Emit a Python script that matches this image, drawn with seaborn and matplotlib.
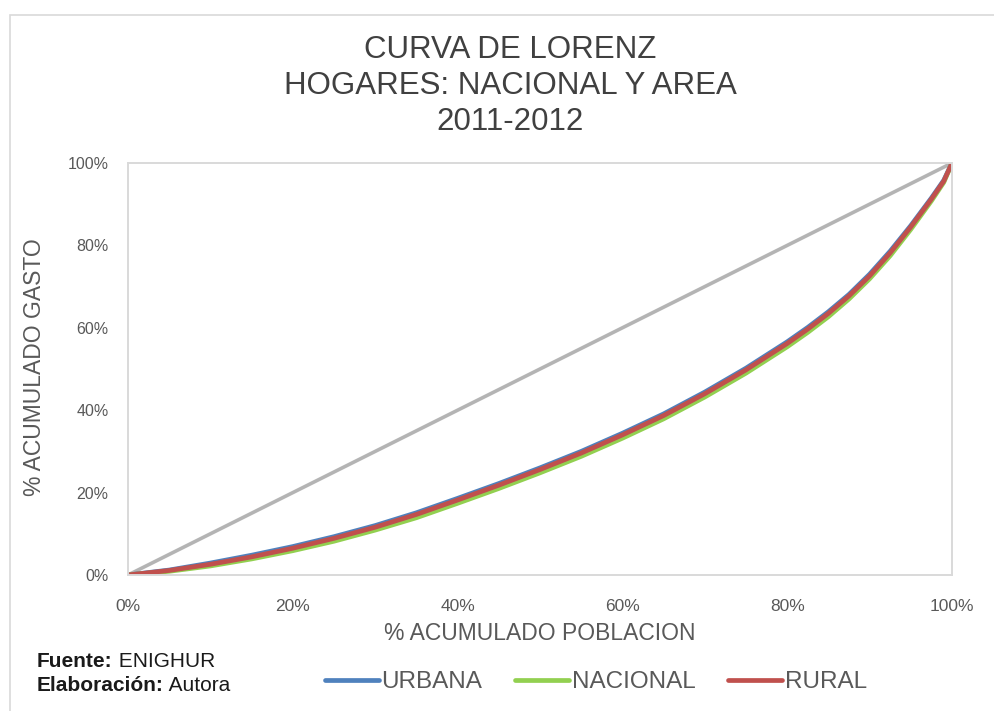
import numpy as np
import pandas as pd
import matplotlib
matplotlib.use('Agg')
import matplotlib.pyplot as plt
import matplotlib.patches as mpatches
import seaborn as sns

################################################################################
# datos (en %)

poblacion = [0, 5, 10, 15, 20, 25, 30, 35, 40, 45, 50, 55, 60, 65, 70, 75, 80, 82.5,
             85, 87.5, 90, 92.5, 95, 97.5, 99, 100]

urbana = [0, 1.2, 2.9, 4.8, 6.9, 9.3, 12.0, 15.1, 18.6, 22.2, 26.0, 30.0, 34.4, 39.1,
          44.4, 50.2, 56.6, 60.1, 63.9, 68.1, 73.0, 78.6, 84.8, 91.5, 95.8, 100]

nacional = [0, 0.9, 2.2, 3.9, 5.9, 8.2, 10.9, 13.9, 17.4, 21.0, 24.8, 28.8, 33.2, 37.9,
            43.2, 49.0, 55.4, 58.9, 62.7, 67.0, 71.9, 77.5, 83.9, 90.8, 95.3, 100]

rural = [0, 1.1, 2.6, 4.4, 6.5, 8.9, 11.6, 14.7, 18.2, 21.8, 25.6, 29.6, 34.0, 38.7,
         44.0, 49.8, 56.2, 59.7, 63.5, 67.75, 72.6, 78.2, 84.5, 91.25, 95.6, 100]

igualdad = [0, 100]

series = ['URBANA', 'NACIONAL', 'RURAL']
colores = ['#4F81BD', '#92D050', '#C0504D']

xticks = [0, 20, 40, 60, 80, 100]
yticks = [0, 20, 40, 60, 80, 100]

################################################################################

df = pd.concat([
    pd.DataFrame({'poblacion': poblacion, 'gasto': vals, 'area': name})
    for name, vals in zip(series, [urbana, nacional, rural])
])

sns.set_style('white')
plt.rcParams['font.family'] = ['Liberation Sans', 'DejaVu Sans']

fig = plt.figure(figsize = (9.94, 7.11), dpi = 100)
ax = fig.add_axes([128 / 994, 1 - 575 / 711, 824 / 994, 412 / 711])

sns.lineplot(
    x = igualdad,
    y = igualdad,
    color = '#B4B4B4',
    linewidth = 2.6,
    ax = ax
)

sns.lineplot(
    data = df,
    x = 'poblacion',
    y = 'gasto',
    hue = 'area',
    palette = dict(zip(series, colores)),
    linewidth = 3.4,
    solid_capstyle = 'round',
    ax = ax
)

ax.set_xlim(0, 100)
ax.set_ylim(0, 100)
ax.set_xticks(xticks)
ax.set_yticks(yticks)
ax.set_xticklabels([f'{t}%' for t in xticks])
ax.set_yticklabels([f'{t}%' for t in yticks])
ax.tick_params(axis = 'y', labelsize = 11.5, colors = '#595959', length = 0, pad = 14)
ax.tick_params(axis = 'x', labelsize = 12.5, colors = '#595959', length = 0, pad = 17)

for side in ['left', 'bottom', 'right', 'top']:
    ax.spines[side].set_visible(True)
    ax.spines[side].set_color('#D9D9D9')
    ax.spines[side].set_linewidth(1.4)

ax.set_xlabel('% ACUMULADO POBLACION', fontsize = 16.5, color = '#595959')
ax.set_ylabel('% ACUMULADO GASTO', fontsize = 16.5, color = '#595959')
ax.xaxis.label.set_va('center')
ax.yaxis.label.set_va('center')
ax.xaxis.set_label_coords((540 - 128) / 824, (575 - 634) / 412)
ax.yaxis.set_label_coords((35 - 128) / 824, (575 - 367) / 412)

fig.text(510 / 994, 1 - 86 / 711, 'CURVA DE LORENZ\nHOGARES: NACIONAL Y AREA\n2011-2012',
         ha = 'center', va = 'center', fontsize = 22.5, color = '#404040', linespacing = 1.26)

# leyenda
handles, labels = ax.get_legend_handles_labels()
ax.get_legend().remove()
fig.legend(
    handles[-3:], labels[-3:],
    loc = 'center',
    bbox_to_anchor = (596 / 994, 1 - 682 / 711),
    ncol = 3,
    frameon = False,
    fontsize = 17.5,
    labelcolor = '#595959',
    handlelength = 2.2,
    handletextpad = 0.12,
    columnspacing = 1.35
)

# fuente
fig.canvas.draw()
renderer = fig.canvas.get_renderer()
for y, bold, normal in [(667, 'Fuente:', ' ENIGHUR'), (691, 'Elaboración:', ' Autora')]:
    t = fig.text(37 / 994, 1 - y / 711, bold, fontsize = 15, fontweight = 'bold',
                 color = '#1a1a1a', va = 'baseline')
    bb = t.get_window_extent(renderer)
    fig.text(bb.x1 / 994, 1 - y / 711, normal, fontsize = 15, color = '#1a1a1a', va = 'baseline')

# marco del grafico
fig.patches.append(mpatches.Rectangle(
    (10 / 994, -0.02), 1.0, 1 - 15 / 711 + 0.02,
    transform = fig.transFigure, fill = False, edgecolor = '#D9D9D9', linewidth = 1.2
))

fig.savefig('out.png', dpi = 100)
